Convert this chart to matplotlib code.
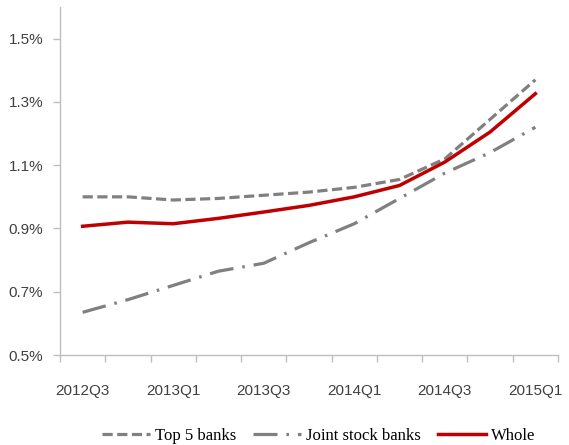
import matplotlib
matplotlib.use("Agg")
import matplotlib.pyplot as plt
import numpy as np

quarters = ["2012Q3", "2012Q4", "2013Q1", "2013Q2", "2013Q3", "2013Q4",
            "2014Q1", "2014Q2", "2014Q3", "2014Q4", "2015Q1"]
top5_banks = [1.00, 1.00, 0.99, 0.995, 1.005, 1.015, 1.03, 1.055, 1.12, 1.245, 1.37]
joint_stock_banks = [0.635, 0.675, 0.72, 0.765, 0.79, 0.855, 0.915, 0.995, 1.075, 1.14, 1.22]
whole = [0.907, 0.92, 0.915, 0.932, 0.952, 0.973, 1.0, 1.036, 1.11, 1.205, 1.326]
y_ticks = [0.5, 0.7, 0.9, 1.1, 1.3, 1.5]

axis_gray = "#BFBFBF"
text_gray = "#404040"
tick_font = ["Liberation Sans Narrow", "Liberation Sans"]

fig = plt.figure(figsize=(5.69, 4.45), dpi=100)
ax = fig.add_axes([0.1054, 0.2022, 0.8753, 0.782])

x = np.arange(len(quarters))
ax.plot(x, top5_banks, color="#808080", lw=2.3, linestyle=(0, (3.2, 1.4)),
        label="Top 5 banks")
ax.plot(x, joint_stock_banks, color="#808080", lw=2.3,
        linestyle=(0, (7.5, 2.8, 0.8, 2.8)), label="Joint stock banks")
ax.plot(x, whole, color="#C00000", lw=2.5, label="Whole")

ax.set_xlim(-0.5, len(quarters) - 0.5)
ax.set_ylim(0.5, 1.6)

# tick marks sit between categories; labels on every other quarter
ax.set_xticks(np.arange(-0.5, len(quarters), 1.0))
ax.set_xticklabels([])
ax.set_xticks(x[::2], minor=True)
ax.set_xticklabels(quarters[::2], minor=True)
ax.tick_params(axis="x", which="major", direction="out", length=5,
               color=axis_gray, width=1)
ax.tick_params(axis="x", which="minor", length=0, pad=21, labelsize=11,
               labelcolor=text_gray)

ax.set_yticks(y_ticks)
ax.set_yticklabels([f"{v:.1f}%" for v in y_ticks])
ax.tick_params(axis="y", direction="out", length=5, color=axis_gray, width=1,
               pad=7, labelsize=11, labelcolor=text_gray)

for lbl in ax.get_xticklabels(minor=True) + ax.get_yticklabels():
    lbl.set_family(tick_font)

for side in ("top", "right"):
    ax.spines[side].set_visible(False)
for side in ("left", "bottom"):
    ax.spines[side].set_color(axis_gray)
    ax.spines[side].set_linewidth(1)

leg = fig.legend(loc="center", bbox_to_anchor=(0.56, 0.02), ncol=3,
                 frameon=False, handlelength=2.9, handletextpad=0.3,
                 columnspacing=1.0,
                 prop={"family": ["Liberation Serif"], "size": 12})

fig.savefig("out.png", dpi=100)
